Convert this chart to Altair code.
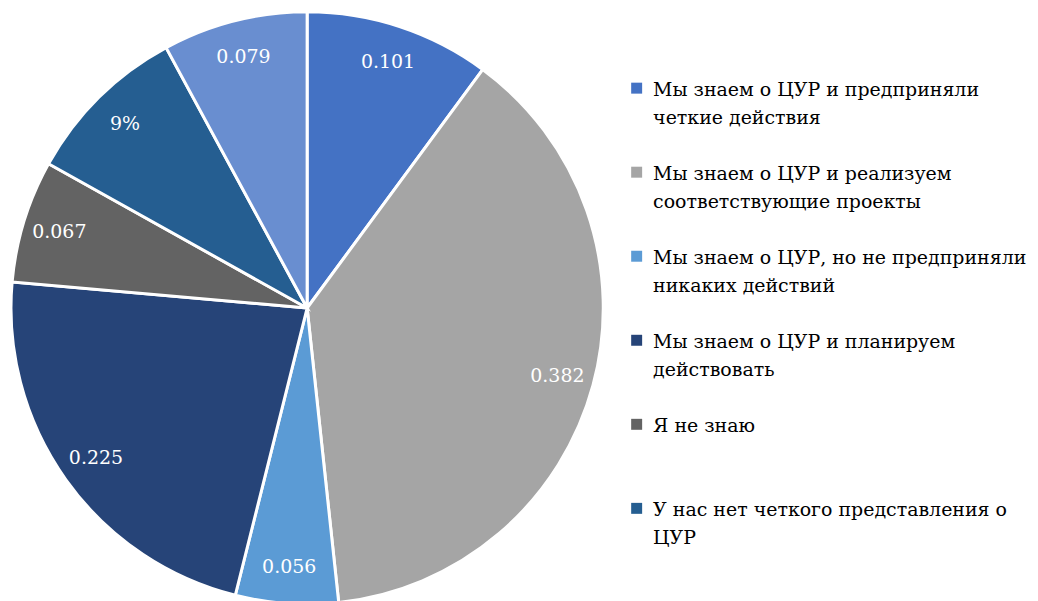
import altair as alt
import pandas as pd

CATEGORIES = [
    "Мы знаем о ЦУР и предприняли|четкие действия",
    "Мы знаем о ЦУР и реализуем|соответствующие проекты",
    "Мы знаем о ЦУР, но не предприняли|никаких действий",
    "Мы знаем о ЦУР и планируем|действовать",
    "Я не знаю",
    "У нас нет четкого представления о|ЦУР",
    "Другое",
]
VALUES = [0.101, 0.382, 0.056, 0.225, 0.067, 0.09, 0.079]
LABELS = ["0.101", "0.382", "0.056", "0.225", "0.067", "9%", "0.079"]
COLORS = ["#4472C4", "#A5A5A5", "#5B9BD5", "#264478", "#636363", "#255E91", "#698ED0"]
LEGEND_SHOWN = CATEGORIES[:6]

df = pd.DataFrame({
    "cat": CATEGORIES,
    "value": VALUES,
    "label": LABELS,
    "idx": list(range(len(VALUES))),
})
legend_df = pd.DataFrame({"cat": LEGEND_SHOWN})

FONT = "DejaVu Serif"
color_scale = alt.Scale(domain=CATEGORIES, range=COLORS)

base = alt.Chart(df).encode(
    theta=alt.Theta("value:Q", stack=True),
    order=alt.Order("idx:Q", sort="ascending"),
)

arcs = base.mark_arc(outerRadius=297, stroke="white", strokeWidth=3).encode(
    color=alt.Color("cat:N", scale=color_scale, legend=None)
)

texts = base.mark_text(
    radius=260, font=FONT, fontSize=19, fill="white", align="center", baseline="middle"
).encode(text="label:N")

ly = alt.Y(
    "cat:N",
    scale=alt.Scale(type="point", domain=LEGEND_SHOWN, padding=1.029, align=0.442),
    axis=None,
)

leg_sym = alt.Chart(legend_df).mark_square(size=121, opacity=1).encode(
    x=alt.value(625.5),
    y=ly,
    color=alt.Color("cat:N", scale=color_scale, legend=None),
)

leg_txt = alt.Chart(legend_df).mark_text(
    align="left", baseline="alphabetic", dy=8, lineBreak="|", lineHeight=28,
    font=FONT, fontSize=19, color="black",
).encode(
    x=alt.value(642),
    y=ly,
    text="cat:N",
)

chart = (
    alt.layer(arcs, texts, leg_sym, leg_txt)
    .properties(
        width=590,
        height=590,
        autosize=alt.AutoSizeParams(type="none"),
        padding={"left": 5, "top": 5, "right": 430, "bottom": 5},
    )
    .configure_view(stroke=None)
)

chart.save("out.html", embed_options={"renderer": "svg", "actions": False})
